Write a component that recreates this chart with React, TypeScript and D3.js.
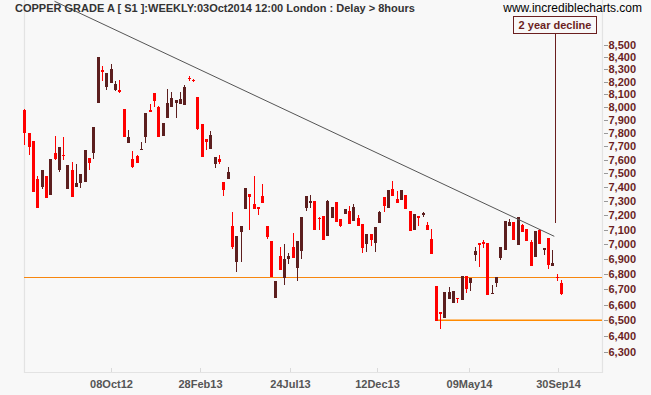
import React, { useEffect, useRef } from "react";
import * as d3 from "d3";

const W = 651, H = 395;
const plot = { left: 24, right: 602, top: 0, bottom: 372 };

// weekly bars, last one dated to the end of the week of 03Oct2014
const lastBarDate = "2014-10-05";

const opens = [
  7978, 7799, 7743, 7459, 7404, 7481, 7346, 7651, 7525, 7636, 7389, 7525, 7404, 7432, 7440, 7611, 7653, 8035, 8295, 8161,
  8193, 8137, 8135, 7986, 7728, 7606, 7628, 7673, 7773, 7978, 8114, 8004, 7781, 7918, 8004, 8035, 8027, 8017, 8231, 8215,
  8080, 7870, 7756, 7681, 7567, 7609, 7438, 7461, 7125, 6882, 7086, 7246, 7351, 7282, 7258, 7337, 7125, 7022, 6644, 6920,
  6770, 6898, 6979, 6840, 6956, 7254, 7289, 7301, 7183, 7195, 7058, 7183, 7294, 7172, 7211, 7230, 7162, 7181, 7139, 7001,
  7070, 7008, 7148, 7330, 7254, 7387, 7315, 7310, 7344, 7232, 7098, 7195, 7211, 7132, 7036, 6720, 6552, 6516, 6638, 6612,
  6645, 6630, 6786, 6740, 6927, 7010, 7017, 7010, 6671, 6740, 6906, 6961, 7125, 7153, 6995, 7132, 7105, 7015, 6913, 7098,
  6967, 7043, 6853, 6782, 6740,
];
const highs = [
  7985, 7800, 7743, 7481, 7525, 7481, 7606, 7778, 7696, 7771, 7562, 7584, 7569, 7496, 7673, 7611, 7847, 8404, 8330, 8273,
  8344, 8209, 8215, 7986, 7824, 7666, 7636, 7733, 7957, 8027, 8114, 8009, 7880, 8143, 8119, 8056, 8119, 8175, 8247, 8220,
  8080, 7870, 7756, 7817, 7621, 7636, 7438, 7547, 7223, 7056, 7125, 7396, 7351, 7481, 7258, 7423, 7125, 7022, 6753, 6981,
  7001, 6938, 7079, 7022, 7190, 7337, 7344, 7301, 7190, 7195, 7308, 7258, 7294, 7172, 7244, 7266, 7280, 7202, 7139, 7070,
  7070, 7118, 7232, 7330, 7380, 7445, 7373, 7380, 7344, 7232, 7209, 7195, 7225, 7153, 7105, 6720, 6552, 6682, 6714, 6688,
  6645, 6786, 6786, 6773, 6981, 7010, 7029, 7010, 6727, 6780, 6981, 7160, 7174, 7153, 7188, 7139, 7105, 7029, 7091, 7105,
  6974, 7043, 6961, 6800, 6760,
];
const lows = [
  7711, 7636, 7368, 7254, 7385, 7325, 7346, 7599, 7513, 7599, 7389, 7332, 7404, 7392, 7440, 7525, 7609, 8035, 8209, 8135,
  8193, 8130, 8114, 7773, 7728, 7540, 7579, 7673, 7728, 7973, 8004, 7773, 7781, 7918, 8004, 7918, 8027, 8017, 8204, 8196,
  7824, 7623, 7673, 7681, 7542, 7569, 7337, 7461, 6970, 6815, 6878, 7246, 7098, 7246, 7204, 7289, 7038, 6780, 6644, 6828,
  6725, 6864, 6909, 6755, 6898, 7232, 7249, 7098, 7098, 7029, 7058, 7183, 7155, 7118, 7211, 7137, 7162, 7125, 6943, 6949,
  6988, 6947, 7148, 7223, 7254, 7337, 7289, 7310, 7246, 7093, 7098, 7125, 7190, 7098, 6936, 6497, 6443, 6516, 6638, 6612,
  6608, 6630, 6677, 6690, 6886, 6848, 6976, 6662, 6671, 6714, 6893, 6961, 7125, 7029, 6995, 7084, 7022, 6853, 6913, 7001,
  6927, 6833, 6853, 6753, 6662,
];
const closes = [
  7803, 7698, 7368, 7254, 7525, 7325, 7606, 7606, 7696, 7628, 7562, 7332, 7432, 7496, 7673, 7579, 7847, 8404, 8287, 8273,
  8303, 8183, 8125, 7773, 7768, 7545, 7579, 7681, 7957, 7973, 8051, 7773, 7875, 8035, 8072, 8056, 8066, 8161, 8220, 8204,
  7832, 7623, 7735, 7786, 7621, 7586, 7380, 7508, 6983, 7056, 7125, 7396, 7332, 7246, 7246, 7289, 7051, 6780, 6753, 6828,
  6900, 6920, 6909, 7022, 7190, 7337, 7301, 7098, 7174, 7029, 7301, 7258, 7155, 7125, 7244, 7137, 7261, 7125, 6974, 7070,
  7029, 7118, 7225, 7266, 7380, 7337, 7289, 7380, 7246, 7093, 7209, 7183, 7216, 7098, 6936, 6497, 6546, 6682, 6682, 6688,
  6638, 6786, 6701, 6773, 6954, 6997, 7003, 6662, 6677, 6780, 6981, 7160, 7153, 7029, 7188, 7084, 7022, 6853, 7091, 7001,
  6974, 6860, 6873, 6775, 6668,
];

const yTickValues = [
  6300, 6400, 6500, 6600, 6700, 6800, 6900, 7000, 7100, 7200, 7300, 7400,
  7500, 7600, 7700, 7800, 7900, 8000, 8100, 8200, 8300, 8400, 8500,
];
const xTickDates = ["2012-10-08", "2013-02-28", "2013-07-24", "2013-12-12", "2014-05-09", "2014-09-30"];

const resistanceLevel = 6780;
const supportLevel = 6500;
const supportFromBar = 95;
const trendStart = { date: "2012-07-08", price: 8870 };
const trendEnd = { date: "2014-09-24", price: 7054 };

const title = "COPPER GRADE A [ S1 ]:WEEKLY:03Oct2014 12:00 London : Delay > 8hours";
const watermark = "www.incrediblecharts.com";
const note = "2 year decline";

const UP = "#5c1f1f";
const DOWN = "#ff0000";
const MAROON = "#6b1f1f";
const FONT = "'Liberation Sans', Arial, sans-serif";

export default function App() {
  const ref = useRef<SVGSVGElement>(null);

  useEffect(() => {
    const svg = d3.select(ref.current);
    svg.selectAll("*").remove();

    const parse = d3.timeParse("%Y-%m-%d");
    const last = parse(lastBarDate)!;
    const n = closes.length;
    const dates = d3.range(n).map((i) => d3.timeDay.offset(last, -7 * (n - 1 - i)));

    const x = d3.scaleTime().domain([dates[0], dates[n - 1]]).range([24.2, 561.1]);
    const y = d3.scaleLog().domain([6300, 8500]).range([352.3, 45]);

    svg.append("rect").attr("width", W).attr("height", H).attr("fill", "#f8f8f8");

    // frame
    svg.append("path")
      .attr("d", `M${plot.left + 0.5},${plot.top}V${plot.bottom + 0.5}H${plot.right + 0.5}V${plot.top}`)
      .attr("fill", "none")
      .attr("stroke", "#e3e3e3")
      .attr("stroke-width", 1.2);

    // x axis
    const xTicks = svg.append("g").attr("font-family", FONT);
    xTickDates.forEach((s) => {
      const d = parse(s)!;
      const px = Math.round(x(d)) + 0.5;
      xTicks.append("line")
        .attr("x1", px).attr("x2", px)
        .attr("y1", plot.bottom - 4).attr("y2", plot.bottom)
        .attr("stroke", "#dadada");
      xTicks.append("text")
        .attr("x", px).attr("y", 388)
        .attr("text-anchor", "middle")
        .attr("font-size", 11).attr("font-weight", "bold")
        .attr("fill", "#555")
        .text(d3.timeFormat("%d%b%y")(d));
    });

    // y axis on the right
    const yTicks = svg.append("g").attr("font-family", FONT);
    yTickValues.forEach((v) => {
      const py = Math.round(y(v)) + 0.5;
      yTicks.append("line")
        .attr("x1", 604).attr("x2", 608)
        .attr("y1", py).attr("y2", py)
        .attr("stroke", "#999");
      yTicks.append("text")
        .attr("x", 608.5).attr("y", py)
        .attr("dy", "0.36em")
        .attr("font-size", 11).attr("font-weight", "bold")
        .attr("fill", MAROON)
        .text(d3.format(",")(v));
    });

    // horizontal levels
    svg.append("line")
      .attr("x1", plot.left).attr("x2", plot.right)
      .attr("y1", Math.round(y(resistanceLevel)) + 0.5).attr("y2", Math.round(y(resistanceLevel)) + 0.5)
      .attr("stroke", "#f7860f").attr("stroke-width", 1.2);
    svg.append("line")
      .attr("x1", x(dates[supportFromBar])).attr("x2", plot.right)
      .attr("y1", y(supportLevel)).attr("y2", y(supportLevel))
      .attr("stroke", "#ff8a00").attr("stroke-width", 1.6);

    // candles
    const candles = svg.append("g").attr("shape-rendering", "crispEdges");
    dates.forEach((d, i) => {
      const o = opens[i], c = closes[i];
      const col = c >= o ? UP : DOWN;
      const cx = Math.round(x(d));
      candles.append("rect")
        .attr("x", cx).attr("width", 1)
        .attr("y", y(highs[i])).attr("height", Math.max(1, y(lows[i]) - y(highs[i])))
        .attr("fill", col);
      const top = y(Math.max(o, c));
      const h = Math.max(1.5, Math.abs(y(o) - y(c)));
      candles.append("rect")
        .attr("x", cx - 1).attr("width", 3)
        .attr("y", top).attr("height", h)
        .attr("fill", col);
    });

    // trend line
    svg.append("line")
      .attr("x1", x(parse(trendStart.date)!)).attr("y1", y(trendStart.price))
      .attr("x2", x(parse(trendEnd.date)!)).attr("y2", y(trendEnd.price))
      .attr("stroke", "#555").attr("stroke-width", 1);

    // annotation
    svg.append("line")
      .attr("x1", 555.5).attr("x2", 555.5)
      .attr("y1", 33).attr("y2", 223)
      .attr("stroke", MAROON).attr("stroke-width", 1);
    svg.append("rect")
      .attr("x", 513.5).attr("y", 16.5).attr("width", 83).attr("height", 17)
      .attr("fill", "#f8f8f8").attr("stroke", MAROON);
    svg.append("text")
      .attr("x", 555).attr("y", 29)
      .attr("text-anchor", "middle")
      .attr("font-family", FONT).attr("font-size", 11).attr("font-weight", "bold")
      .attr("fill", MAROON)
      .text(note);

    // header texts
    svg.append("text")
      .attr("x", 15).attr("y", 12)
      .attr("font-family", FONT).attr("font-size", 11).attr("font-weight", "bold")
      .attr("fill", "#333")
      .text(title);
    svg.append("text")
      .attr("x", 642).attr("y", 12)
      .attr("text-anchor", "end")
      .attr("font-family", FONT).attr("font-size", 12)
      .attr("fill", "#000")
      .text(watermark);
  }, []);

  return (
    <div style={{ position: "absolute", left: 0, top: 0 }}>
      <svg ref={ref} width={W} height={H} />
    </div>
  );
}
